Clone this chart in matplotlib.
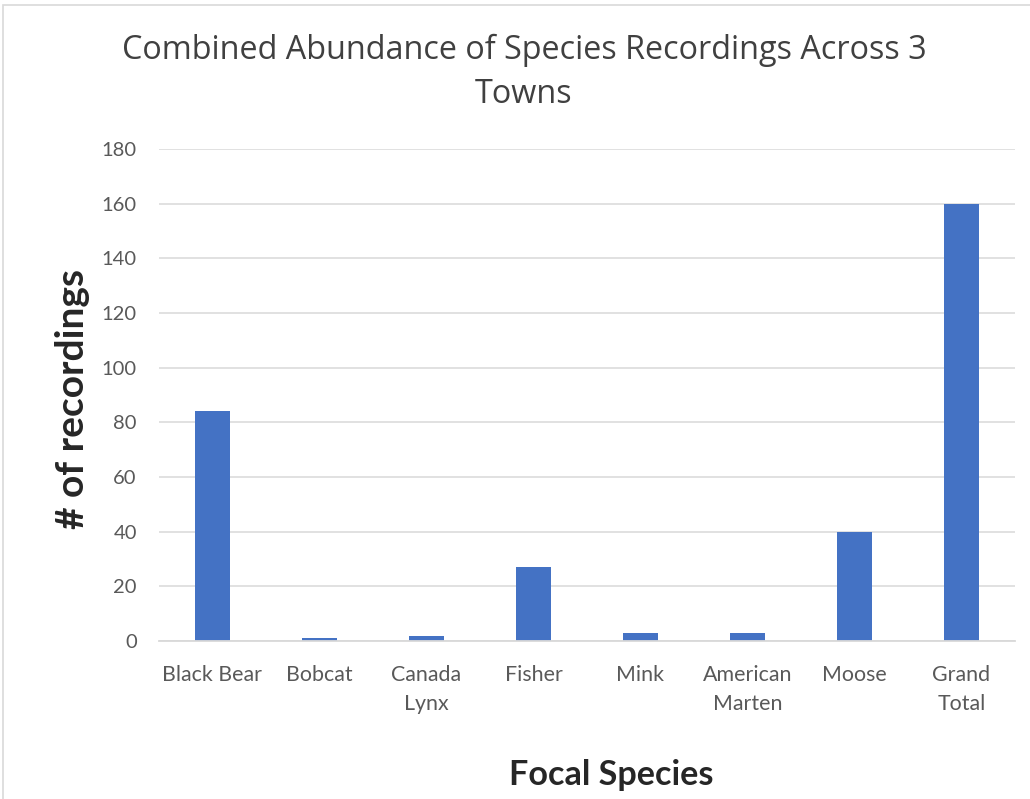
import matplotlib
matplotlib.use("Agg")
import matplotlib.pyplot as plt
from matplotlib.patches import Rectangle

species = ["Black Bear", "Bobcat", "Canada\nLynx", "Fisher", "Mink",
           "American\nMarten", "Moose", "Grand\nTotal"]
recordings = [84, 1, 2, 27, 3, 3, 40, 160]
y_ticks = list(range(0, 181, 20))

W, H = 1030, 799
fig = plt.figure(figsize=(W / 100, H / 100), dpi=100)
fig.patch.set_facecolor("white")

# chart frame (left and top edges visible)
fig.patches.append(Rectangle((3 / W, -0.05), 1.2, 1 - 5 / H + 0.05,
                             transform=fig.transFigure, fill=False,
                             edgecolor="#D9D9D9", linewidth=1.2))

left, right = 159 / W, 1015 / W
bottom, top = 1 - 641 / H, 1 - 149 / H
ax = fig.add_axes([left, bottom, right - left, top - bottom])

x = range(len(species))
ax.bar(x, recordings, width=0.32, color="#4472C4", zorder=3)

ax.set_xlim(-0.5, len(species) - 0.5)
ax.set_ylim(0, 180)
ax.set_yticks(y_ticks)
ax.set_xticks(list(x))
ax.set_xticklabels(species, fontsize=15.4, color="#595959", family="Lato",
                   linespacing=1.6)
ax.set_yticklabels([str(v) for v in y_ticks], fontsize=14.5, color="#595959",
                   family="Lato")
ax.tick_params(axis="both", length=0)
ax.tick_params(axis="y", pad=16)
ax.tick_params(axis="x", pad=17)

ax.grid(axis="y", color="#D9D9D9", linewidth=1.1, zorder=0)
for s in ["top", "right", "left"]:
    ax.spines[s].set_visible(False)
ax.spines["bottom"].set_color("#D9D9D9")
ax.spines["bottom"].set_linewidth(1.3)
ax.spines["bottom"].set_zorder(4)

fig.text(524 / W, 1 - 72.5 / H,
         "Combined Abundance of Species Recordings Across 3\nTowns",
         ha="center", va="center", fontsize=23.3, color="#404040",
         family="Open Sans", linespacing=1.45)

fig.text(72 / W, 1 - 399 / H, "# of recordings", rotation=90,
         ha="center", va="center", fontsize=28, fontweight="bold",
         color="#262626", family="Lato")
fig.text(611 / W, 1 - 775 / H, "Focal Species", ha="center", va="center",
         fontsize=24.6, fontweight="bold", color="#262626", family="Lato")

fig.savefig("out.png", dpi=100, facecolor="white")
